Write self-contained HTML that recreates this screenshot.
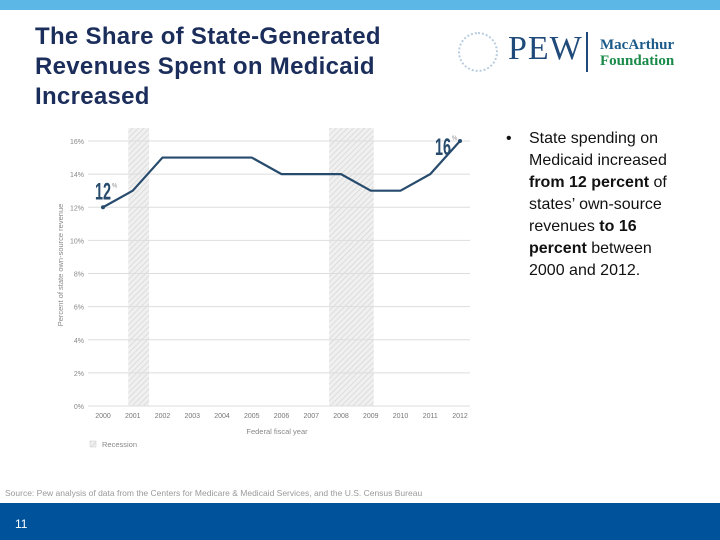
<!DOCTYPE html>
<html><head><meta charset="utf-8"><style>
body{margin:0;width:720px;height:540px;position:relative;background:#fff;font-family:"Liberation Sans",sans-serif;overflow:hidden}
.abs{position:absolute}
</style></head><body>
<div class="abs" style="left:0;top:0;width:720px;height:10px;background:#5db7e6"></div>
<div class="abs" style="left:35px;top:22px;font-size:24px;line-height:30px;font-weight:bold;color:#1b2d5a;letter-spacing:0.3px">The Share of State-Generated<br>Revenues Spent on Medicaid<br>Increased</div>
<div class="abs" style="left:458px;top:32px;width:36px;height:36px;border-radius:50%;border:2px dotted #b8cde0"></div>
<div class="abs" style="left:508px;top:30px;font-family:'Liberation Serif',serif;font-size:34px;color:#1f4a7a;letter-spacing:1px">PEW</div>
<div class="abs" style="left:586px;top:32px;width:2px;height:40px;background:#1f4a7a"></div>
<div class="abs" style="left:600px;top:37px;font-family:'Liberation Serif',serif;font-weight:bold;font-size:15px;line-height:16px;color:#1c5a8a">MacArthur<br><span style="color:#1a8a4a">Foundation</span></div>
<div class="abs" style="left:506px;top:128px;width:178px;font-size:16px;line-height:22px;color:#111">
<span style="position:absolute;left:0">•</span><div style="margin-left:23px">State spending on Medicaid increased <b>from 12 percent</b> of states’ own-source revenues <b>to 16 percent</b> between 2000 and 2012.</div></div>
<svg class="abs" style="left:0;top:0" width="720" height="540">
<defs><pattern id="hatch" width="4" height="4" patternUnits="userSpaceOnUse" patternTransform="rotate(45)"><rect width="4" height="4" fill="#f0f0f0"/><line x1="0" y1="0" x2="0" y2="4" stroke="#d6d6d6" stroke-width="1.5"/></pattern></defs>
<g id="g"></g>
</svg>
<div class="abs" style="left:5px;top:488px;font-size:8.5px;color:#999">Source: Pew analysis of data from the Centers for Medicare &amp; Medicaid Services, and the U.S. Census Bureau</div>
<div class="abs" style="left:0;top:503px;width:720px;height:37px;background:#00529b"></div>
<div class="abs" style="left:15px;top:517px;font-size:12px;color:#fff">11</div>
<script>
const years=["2000","2001","2002","2003","2004","2005","2006","2007","2008","2009","2010","2011","2012"];
const values=[12,13,15,15,15,15,14,14,14,13,13,14,16];
const yTicks=[0,2,4,6,8,10,12,14,16];
const recessions=[[0.85,1.55],[7.6,9.1]];
const NS="http://www.w3.org/2000/svg";
const g=document.getElementById('g');
const x=i=>103+i*(460-103)/12;
const y=v=>406-v*(406-141)/16;
function mk(t,a,txt){const e=document.createElementNS(NS,t);for(const k in a)e.setAttribute(k,a[k]);if(txt!=null)e.textContent=txt;g.appendChild(e);return e;}
recessions.forEach(r=>{const e=mk('rect',{x:x(r[0]),y:128,width:x(r[1])-x(r[0]),height:278,fill:'url(#hatch)'});

});
yTicks.forEach(v=>{const l=mk('line',{x1:88,x2:470,y1:y(v),y2:y(v),stroke:'#ddd','stroke-width':1});


const t=mk('text',{x:84,y:y(v)+3,'text-anchor':'end','font-size':7,fill:'#888'},v+'%');

});
years.forEach((yr,i)=>{const t=mk('text',{x:x(i),y:418,'text-anchor':'middle','font-size':7,fill:'#777'},yr);

});
const p=mk('polyline',{points:values.map((v,i)=>x(i)+','+y(v)).join(' '),fill:'none',stroke:'#274b6d','stroke-width':2.2});


[0,values.length-1].forEach(i=>{const c=mk('circle',{cx:x(i),cy:y(values[i]),r:2,fill:'#274b6d'});


const t=mk('text',{x:x(i)+(i?-25:-8),y:y(values[i])+(i?14:-8),'font-size':24,'font-weight':'bold',fill:'#274b6d'},values[i]);


t.setAttribute('textLength',16);t.setAttribute('lengthAdjust','spacingAndGlyphs');
const s=mk('text',{x:x(i)+(i?-8:9),y:y(values[i])+(i?-1:-20),'font-size':6,fill:'#888'},'%');

});
const yt=mk('text',{x:0,y:0,'font-size':7.5,fill:'#888','text-anchor':'middle',transform:'translate(63,265) rotate(-90)'},'Percent of state own-source revenue');


const xt=mk('text',{x:277,y:434,'font-size':7.5,fill:'#888','text-anchor':'middle'},'Federal fiscal year');


const lr=mk('rect',{x:90,y:441,width:6,height:6,fill:'url(#hatch)',stroke:'#ccc','stroke-width':0.5});


const lt=mk('text',{x:102,y:447,'font-size':7.5,fill:'#888'},'Recession');


</script>
</body></html>
